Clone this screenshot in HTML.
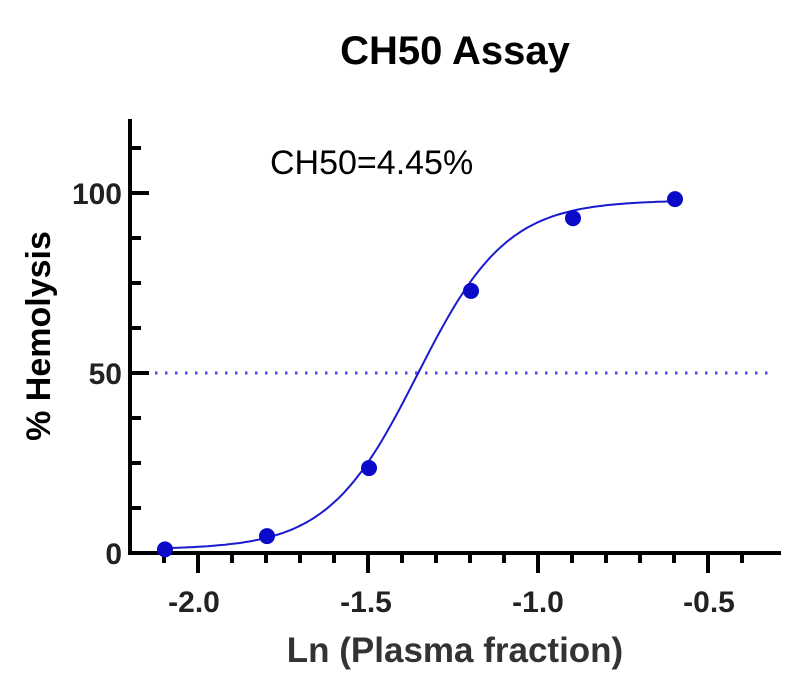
<!DOCTYPE html><html><head><style>body{margin:0;background:#fff}svg{display:block}</style></head><body>
<svg id="s" width="790" height="674" xmlns="http://www.w3.org/2000/svg" font-family="Liberation Sans, Arial, sans-serif">
<text x="455" y="64" font-size="40" font-weight="bold" text-anchor="middle" fill="#000">CH50 Assay</text>
<text x="270" y="174" font-size="34" fill="#000">CH50=4.45%</text>
<line x1="155" y1="373" x2="770" y2="373" stroke="#4a4aee" stroke-width="3" stroke-dasharray="2.5,7.5"/>
<g id="ax" stroke="#000" stroke-width="4"></g>
<g font-size="30" font-weight="bold" fill="#222" text-anchor="end">
<text x="122" y="204">100</text><text x="122" y="384">50</text><text x="122" y="564">0</text>
</g>
<g font-size="30" font-weight="bold" fill="#222" text-anchor="middle">
<text x="194" y="612">-2.0</text><text x="366" y="612">-1.5</text><text x="538" y="612">-1.0</text><text x="709" y="612">-0.5</text>
</g>
<text x="455" y="662" font-size="35" font-weight="bold" fill="#333" text-anchor="middle">Ln (Plasma fraction)</text>
<text transform="translate(50,336) rotate(-90)" font-size="34" font-weight="bold" fill="#000" text-anchor="middle">% Hemolysis</text>
<path id="c" fill="none" stroke="#1a1acc" stroke-width="2"/>
<g id="pts" fill="#0a0ac8"></g>
</svg>
<script>
var X=function(x){return 198+340*(x+2)},Y=function(y){return 553-3.6*y};
var ax=document.getElementById('ax'),h='';
h+='<line x1="130" y1="119" x2="130" y2="555"/><line x1="128" y1="553" x2="781" y2="553"/>';
for(var v=0;v<=112.5;v+=12.5){var maj=(v%50==0);h+='<line x1="130" y1="'+Y(v)+'" x2="'+(maj?149:141)+'" y2="'+Y(v)+'"/>';}
for(var i=-21;i<=-4;i++){var x=i/10,maj=(i%5==0);h+='<line x1="'+X(x)+'" y1="553" x2="'+X(x)+'" y2="'+(maj?573:563)+'"/>';}
ax.innerHTML=h;
function f(x){return 1+97/(1+Math.pow(10,(-1.355-x)*3.3));}
var d='';for(var x=-2.1;x<=-0.6001;x+=0.01){d+=(d?'L':'M')+X(x).toFixed(1)+','+Y(f(x)).toFixed(1);}
document.getElementById('c').setAttribute('d',d);
var P=[[-2.1,1],[-1.8,4.7],[-1.5,23.6],[-1.2,72.8],[-0.9,93],[-0.6,98.3]],s='';
P.forEach(function(p){s+='<circle cx="'+(X(p[0])+1)+'" cy="'+Y(p[1])+'" r="8"/>';});
document.getElementById('pts').innerHTML=s;
</script>
</body></html>
